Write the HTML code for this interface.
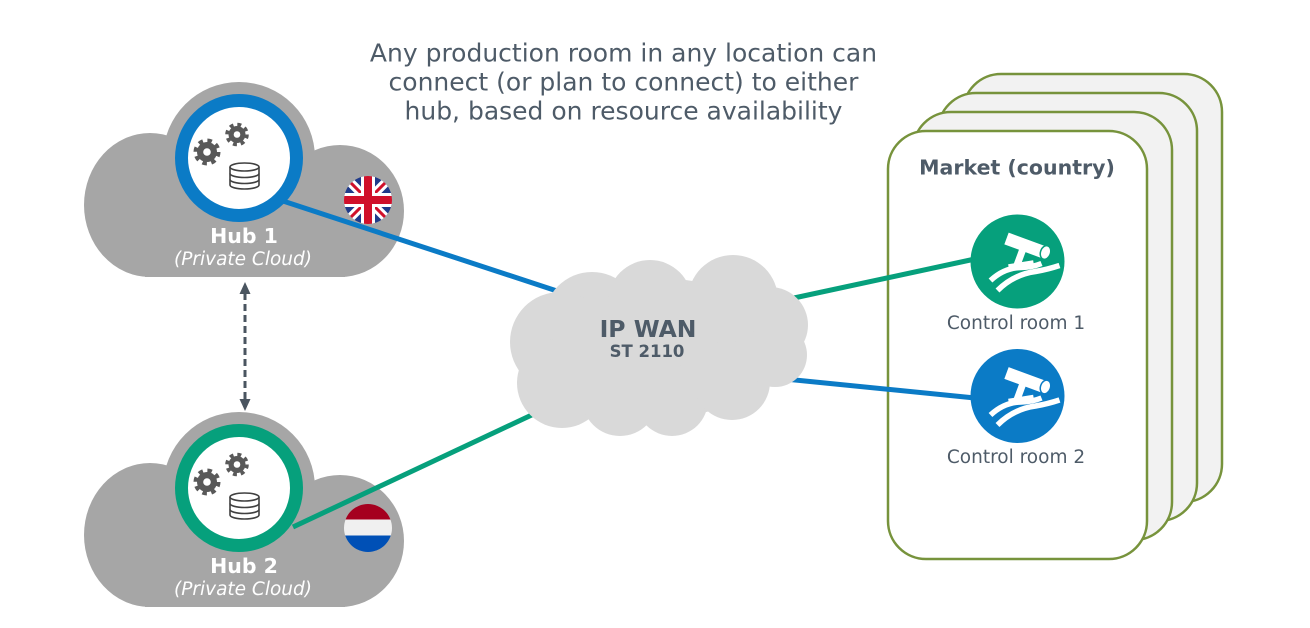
<!DOCTYPE html>
<html>
<head>
<meta charset="utf-8">
<style>
html,body{margin:0;padding:0;background:#fff;}
svg{display:block;}
</style>
</head>
<body>
<svg width="1310" height="628" viewBox="0 0 1310 628" xmlns="http://www.w3.org/2000/svg">
<defs>
  <clipPath id="ukclip"><circle cx="368" cy="200" r="24"/></clipPath>
  <clipPath id="nlclip"><circle cx="368" cy="528" r="24"/></clipPath>
</defs>

<!-- Market boxes -->
<rect x="963" y="74" width="259" height="428" rx="38" fill="#f2f2f2" stroke="#77933c" stroke-width="2.5"/>
<rect x="938" y="93" width="259" height="428" rx="38" fill="#f2f2f2" stroke="#77933c" stroke-width="2.5"/>
<rect x="913" y="112" width="259" height="428" rx="38" fill="#f2f2f2" stroke="#77933c" stroke-width="2.5"/>
<rect x="888" y="131" width="259" height="428" rx="38" fill="#ffffff" stroke="#77933c" stroke-width="2.5"/>

<!-- Hub clouds -->
<g fill="#a6a6a6">
  <ellipse cx="150" cy="205" rx="66" ry="72"/>
  <circle cx="239" cy="158" r="76"/>
  <ellipse cx="340" cy="211" rx="64" ry="66"/>
  <rect x="145" y="195" width="200" height="82"/>
</g>
<g fill="#a6a6a6" transform="translate(0,330)">
  <ellipse cx="150" cy="205" rx="66" ry="72"/>
  <circle cx="239" cy="158" r="76"/>
  <ellipse cx="340" cy="211" rx="64" ry="66"/>
  <rect x="145" y="195" width="200" height="82"/>
</g>

<!-- connectors -->
<line x1="283" y1="201" x2="560" y2="292" stroke="#0b7bc6" stroke-width="5"/>
<line x1="293" y1="527" x2="570" y2="397" stroke="#06a07c" stroke-width="5"/>
<line x1="780" y1="301" x2="975" y2="259" stroke="#06a07c" stroke-width="5"/>
<line x1="775" y1="378" x2="975" y2="398" stroke="#0b7bc6" stroke-width="5"/>

<!-- dashed double arrow -->
<line x1="245" y1="293" x2="245" y2="400" stroke="#4a5560" stroke-width="3" stroke-dasharray="7 4"/>
<polygon points="245,282 239.5,294 250.5,294" fill="#4a5560"/>
<polygon points="245,411 239.5,399 250.5,399" fill="#4a5560"/>

<!-- Hub rings -->
<circle cx="239" cy="158" r="57.5" fill="#ffffff" stroke="#0b7bc6" stroke-width="13"/>
<circle cx="239" cy="488" r="57.5" fill="#ffffff" stroke="#06a07c" stroke-width="13"/>

<!-- Hub icons (gears + db) -->
<g>
  <circle cx="207" cy="152" r="10" fill="#595959"/>
  <circle cx="207" cy="152" r="11.5" fill="none" stroke="#595959" stroke-width="4" stroke-dasharray="4.52 4.52"/>
  <circle cx="207" cy="152" r="3.8" fill="#ffffff"/>
  <circle cx="237" cy="134.5" r="8.5" fill="#595959"/>
  <circle cx="237" cy="134.5" r="10" fill="none" stroke="#595959" stroke-width="3.6" stroke-dasharray="3.93 3.93"/>
  <circle cx="237" cy="134.5" r="3.3" fill="#ffffff"/>
  <path d="M230 167 L230 185 A14.5 4 0 0 0 259 185 L259 167" fill="#ffffff" stroke="#404040" stroke-width="1.6"/>
  <ellipse cx="244.5" cy="167" rx="14.5" ry="4" fill="#ffffff" stroke="#404040" stroke-width="1.6"/>
  <path d="M230 173.5 A14.5 4 0 0 0 259 173.5 M230 179.5 A14.5 4 0 0 0 259 179.5" fill="none" stroke="#404040" stroke-width="1.6"/>
</g>
<g transform="translate(0,330)">
  <circle cx="207" cy="152" r="10" fill="#595959"/>
  <circle cx="207" cy="152" r="11.5" fill="none" stroke="#595959" stroke-width="4" stroke-dasharray="4.52 4.52"/>
  <circle cx="207" cy="152" r="3.8" fill="#ffffff"/>
  <circle cx="237" cy="134.5" r="8.5" fill="#595959"/>
  <circle cx="237" cy="134.5" r="10" fill="none" stroke="#595959" stroke-width="3.6" stroke-dasharray="3.93 3.93"/>
  <circle cx="237" cy="134.5" r="3.3" fill="#ffffff"/>
  <path d="M230 167 L230 185 A14.5 4 0 0 0 259 185 L259 167" fill="#ffffff" stroke="#404040" stroke-width="1.6"/>
  <ellipse cx="244.5" cy="167" rx="14.5" ry="4" fill="#ffffff" stroke="#404040" stroke-width="1.6"/>
  <path d="M230 173.5 A14.5 4 0 0 0 259 173.5 M230 179.5 A14.5 4 0 0 0 259 179.5" fill="none" stroke="#404040" stroke-width="1.6"/>
</g>

<!-- Hub labels -->
<g font-family="'DejaVu Sans', Verdana, sans-serif" fill="#ffffff" text-anchor="middle">
  <text x="244" y="243" font-size="20.5" font-weight="bold">Hub 1</text>
  <text x="243" y="265" font-size="18.5" font-style="italic">(Private Cloud)</text>
  <text x="244" y="573" font-size="20.5" font-weight="bold">Hub 2</text>
  <text x="243" y="595" font-size="18.5" font-style="italic">(Private Cloud)</text>
</g>

<!-- UK flag -->
<g clip-path="url(#ukclip)">
  <rect x="340" y="172" width="56" height="56" fill="#1f3a8a"/>
  <line x1="340" y1="172" x2="396" y2="228" stroke="#ffffff" stroke-width="9"/>
  <line x1="396" y1="172" x2="340" y2="228" stroke="#ffffff" stroke-width="9"/>
  <line x1="340" y1="172" x2="396" y2="228" stroke="#d0102a" stroke-width="3"/>
  <line x1="396" y1="172" x2="340" y2="228" stroke="#d0102a" stroke-width="3"/>
  <rect x="340" y="193" width="56" height="14" fill="#ffffff"/>
  <rect x="361" y="172" width="14" height="56" fill="#ffffff"/>
  <rect x="340" y="196" width="56" height="8" fill="#d0102a"/>
  <rect x="364" y="172" width="8" height="56" fill="#d0102a"/>
</g>
<!-- NL flag -->
<g clip-path="url(#nlclip)">
  <rect x="340" y="500" width="56" height="19.5" fill="#a5001f"/>
  <rect x="340" y="519.5" width="56" height="16" fill="#f0f0f0"/>
  <rect x="340" y="535.5" width="56" height="20" fill="#0050b6"/>
</g>

<!-- IP WAN cloud -->
<g fill="#d9d9d9">
  <ellipse cx="658" cy="348" rx="120" ry="70"/>
  <circle cx="592" cy="320" r="48"/>
  <circle cx="650" cy="302" r="42"/>
  <circle cx="733" cy="300" r="45"/>
  <circle cx="770" cy="325" r="38"/>
  <circle cx="560" cy="342" r="50"/>
  <circle cx="562" cy="383" r="45"/>
  <circle cx="620" cy="398" r="38"/>
  <circle cx="672" cy="400" r="36"/>
  <circle cx="732" cy="382" r="38"/>
  <circle cx="775" cy="355" r="32"/>
</g>
<g font-family="'DejaVu Sans', Verdana, sans-serif" fill="#4e5b68" text-anchor="middle" font-weight="bold">
  <text x="648" y="337" font-size="23.5">IP WAN</text>
  <text x="647" y="357" font-size="16.5">ST 2110</text>
</g>

<!-- Title -->
<g font-family="'DejaVu Sans', Verdana, sans-serif" fill="#4e5b68" text-anchor="middle" font-size="25">
  <text x="623.5" y="61.5">Any production room in any location can</text>
  <text x="623.5" y="90.5">connect (or plan to connect) to either</text>
  <text x="623.5" y="119.5">hub, based on resource availability</text>
</g>

<!-- Market label -->
<text x="1017" y="174.5" font-family="'DejaVu Sans', Verdana, sans-serif" font-size="20.5" font-weight="bold" fill="#4e5b68" text-anchor="middle">Market (country)</text>

<!-- Control rooms -->
<circle cx="1017.5" cy="261.5" r="47" fill="#06a07c"/>
<circle cx="1017.5" cy="396" r="47" fill="#0b7bc6"/>

<g transform="translate(1017.5,261.5)">
  <line x1="-11" y1="-23" x2="27" y2="-9" stroke="#ffffff" stroke-width="12.5"/>
  <ellipse cx="28" cy="-9" rx="5" ry="7" transform="rotate(19 28 -9)" fill="#ffffff" stroke="#06a07c" stroke-width="1.5"/>
  <path d="M6 -14 L-1 5" stroke="#ffffff" stroke-width="7"/>
  <path d="M-9 5 L16 1" stroke="#ffffff" stroke-width="4.5"/>
  <path d="M-27 19 Q-13 6 4 6 Q14 6 24 2" fill="none" stroke="#ffffff" stroke-width="5.5"/>
  <path d="M-20 29 Q-4 13 18 10 Q30 8 42 4" fill="none" stroke="#ffffff" stroke-width="5.5"/>
</g>
<g transform="translate(1017.5,396)">
  <line x1="-11" y1="-23" x2="27" y2="-9" stroke="#ffffff" stroke-width="12.5"/>
  <ellipse cx="28" cy="-9" rx="5" ry="7" transform="rotate(19 28 -9)" fill="#ffffff" stroke="#0b7bc6" stroke-width="1.5"/>
  <path d="M6 -14 L-1 5" stroke="#ffffff" stroke-width="7"/>
  <path d="M-9 5 L16 1" stroke="#ffffff" stroke-width="4.5"/>
  <path d="M-27 19 Q-13 6 4 6 Q14 6 24 2" fill="none" stroke="#ffffff" stroke-width="5.5"/>
  <path d="M-20 29 Q-4 13 18 10 Q30 8 42 4" fill="none" stroke="#ffffff" stroke-width="5.5"/>
</g>

<g font-family="'DejaVu Sans', Verdana, sans-serif" fill="#4e5b68" text-anchor="middle" font-size="18.5">
  <text x="1016" y="329">Control room 1</text>
  <text x="1016" y="463">Control room 2</text>
</g>
</svg>
</body>
</html>
